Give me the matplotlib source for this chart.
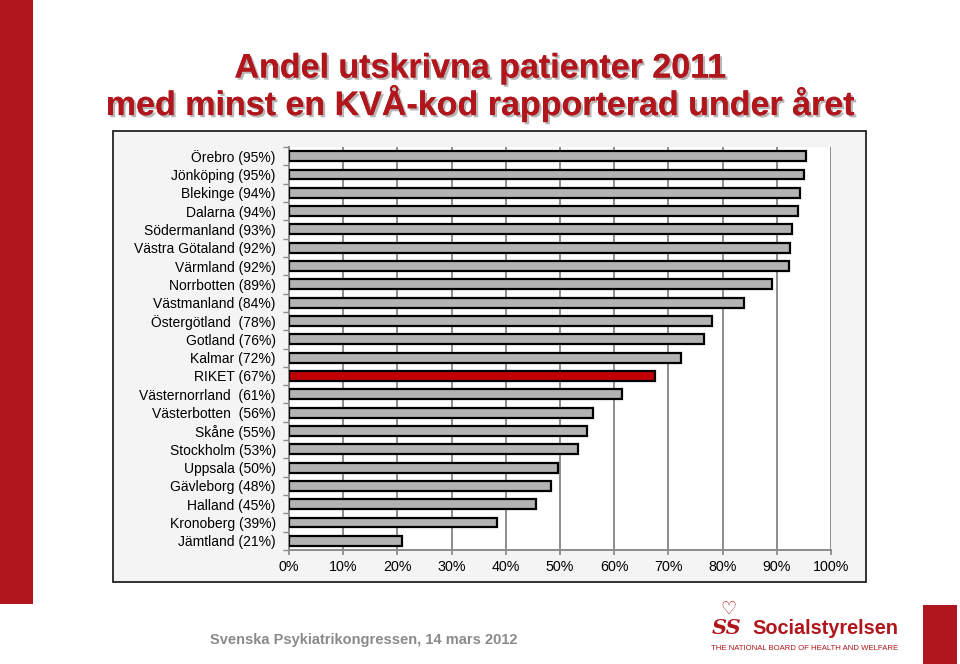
import matplotlib
matplotlib.use("Agg")
import matplotlib.pyplot as plt
import matplotlib.patheffects as pe
from matplotlib.patches import Rectangle
from matplotlib.ticker import FixedLocator

plt.rcParams['font.family'] = ['Liberation Sans', 'DejaVu Sans']

categories = ["Örebro (95%)", "Jönköping (95%)", "Blekinge (94%)", "Dalarna (94%)",
              "Södermanland (93%)", "Västra Götaland (92%)", "Värmland (92%)",
              "Norrbotten (89%)", "Västmanland (84%)", "Östergötland  (78%)",
              "Gotland (76%)", "Kalmar (72%)", "RIKET (67%)", "Västernorrland  (61%)",
              "Västerbotten  (56%)", "Skåne (55%)", "Stockholm (53%)", "Uppsala (50%)",
              "Gävleborg (48%)", "Halland (45%)", "Kronoberg (39%)", "Jämtland (21%)"]
values = [95.4, 95.1, 94.3, 93.9, 92.8, 92.4, 92.2, 89.1, 83.9, 78.0, 76.5, 72.3,
          67.5, 61.4, 56.0, 54.9, 53.4, 49.7, 48.4, 45.5, 38.4, 20.9]
highlight = "RIKET (67%)"
xtick_labels = ["0%", "10%", "20%", "30%", "40%", "50%", "60%", "70%", "80%", "90%", "100%"]

RED = '#b0161b'
W, H = 960, 664
fig = plt.figure(figsize=(W / 100, H / 100), dpi=100)
fig.patch.set_facecolor('white')

def fx(x): return x / W
def fy(y): return 1 - y / H

# decorative red bars
fig.add_artist(Rectangle((0, fy(604)), fx(33), 1 - fy(604), transform=fig.transFigure,
                         facecolor=RED, edgecolor='none', zorder=-2))
fig.add_artist(Rectangle((fx(923), 0), fx(957) - fx(923), fy(605), transform=fig.transFigure,
                         facecolor=RED, edgecolor='none', zorder=-2))

# chart frame
fig.add_artist(Rectangle((fx(113), fy(582)), fx(866) - fx(113), fy(131) - fy(582),
                         transform=fig.transFigure, facecolor='#f4f4f4',
                         edgecolor='#222222', linewidth=1.3, zorder=-1))

# title
shadow = [pe.withSimplePatchShadow(offset=(1.6, -1.6), shadow_rgbFace='#888888', alpha=0.6), pe.Normal()]
fig.text(fx(480), fy(69), "Andel utskrivna patienter 2011", ha='center', va='center',
         fontsize=24.5, fontweight='bold', color=RED, path_effects=shadow)
fig.text(fx(480), fy(104), "med minst en KVÅ-kod rapporterad under året", ha='center', va='center',
         fontsize=24.5, fontweight='bold', color=RED, path_effects=shadow)

# axes
ax = fig.add_axes([fx(289), fy(550), fx(831) - fx(289), fy(147) - fy(550)])
ax.set_zorder(2)
ax.set_facecolor('white')
n = len(categories)
ypos = list(range(n))
colors = [('#c00000' if c == highlight else '#b3b3b3') for c in categories]
ax.barh(ypos, values, height=0.54, color=colors, edgecolor='black', linewidth=1.6, zorder=3)
ax.set_xlim(0, 100)
ax.set_ylim(n - 0.5, -0.5)
ax.set_xticks(range(0, 101, 10))
ax.set_xticklabels(xtick_labels, fontsize=10.3)
ax.grid(axis='x', color='#8c8c8c', linewidth=1.4, zorder=1)
ax.set_yticks(ypos)
ax.set_yticklabels(categories, fontsize=10)
ax.tick_params(axis='y', which='major', length=0, pad=9.5)
ax.yaxis.set_minor_locator(FixedLocator([i - 0.5 for i in range(n + 1)]))
ax.tick_params(axis='y', which='minor', length=4, color='#8c8c8c', width=1)
ax.tick_params(axis='x', which='major', length=3.5, color='#8c8c8c', width=1.3, pad=4)
for s in ['top', 'right']:
    ax.spines[s].set_visible(False)
for s in ['left', 'bottom']:
    ax.spines[s].set_color('#8c8c8c')
    ax.spines[s].set_linewidth(1.4)

# footer
fig.text(fx(210), fy(640), "Svenska Psykiatrikongressen, 14 mars 2012", ha='left', va='center',
         fontsize=10.5, fontweight='bold', color='#8a8a8a')

# logo
fig.text(fx(728), fy(609), "♡", ha='center', va='center', fontsize=13, color=RED,
         family=['DejaVu Sans'], fontweight='bold')
fig.text(fx(727), fy(628), "SS", ha='center', va='center', fontsize=15, color=RED,
         family=['DejaVu Serif'], fontweight='bold', style='italic')
fig.text(fx(898), fy(628), "Socialstyrelsen", ha='right', va='center', fontsize=14.3,
         fontweight='bold', color=RED)
fig.text(fx(898), fy(648), "THE NATIONAL BOARD OF HEALTH AND WELFARE", ha='right', va='center',
         fontsize=5.6, color=RED)

fig.savefig("out.png", dpi=100)
